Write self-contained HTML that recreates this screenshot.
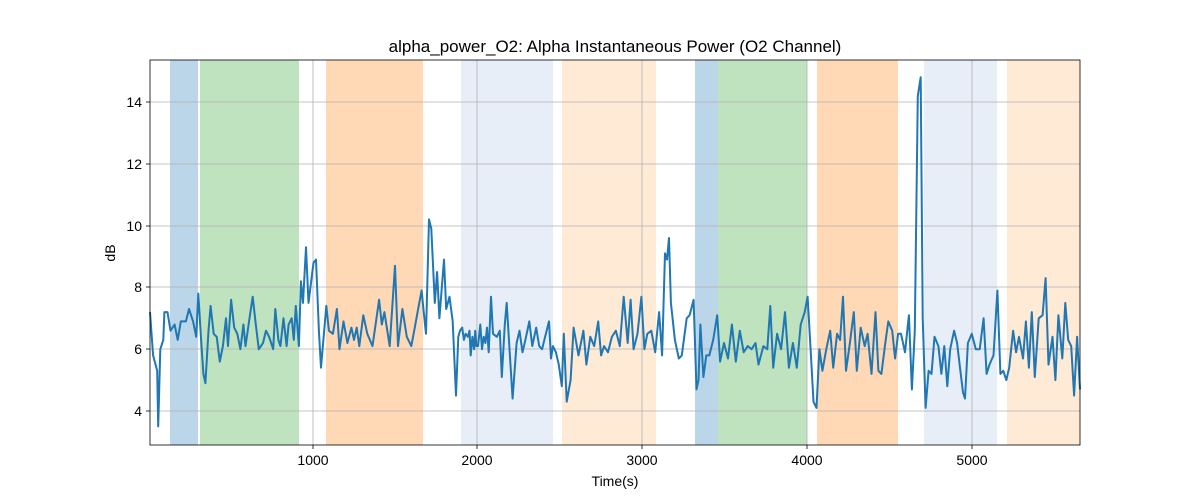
<!DOCTYPE html>
<html><head><meta charset="utf-8"><style>
html,body{margin:0;padding:0;background:#fff;}
svg{display:block;font-family:"Liberation Sans","DejaVu Sans",sans-serif;}
</style></head><body>
<svg id="s" width="1200" height="500" xmlns="http://www.w3.org/2000/svg">
<rect width="1200" height="500" fill="#fff"/>
<g>
<rect x="170" y="60" width="28" height="385" fill="#1f77b4" opacity="0.3"/>
<rect x="200" y="60" width="99" height="385" fill="#2ca02c" opacity="0.3"/>
<rect x="326" y="60" width="97" height="385" fill="#ff7f0e" opacity="0.3"/>
<rect x="461" y="60" width="92" height="385" fill="#aec7e8" opacity="0.3"/>
<rect x="562" y="60" width="94" height="385" fill="#ffbb78" opacity="0.3"/>
<rect x="695" y="60" width="23" height="385" fill="#1f77b4" opacity="0.3"/>
<rect x="718" y="60" width="89" height="385" fill="#2ca02c" opacity="0.3"/>
<rect x="817" y="60" width="81" height="385" fill="#ff7f0e" opacity="0.3"/>
<rect x="924" y="60" width="73" height="385" fill="#aec7e8" opacity="0.3"/>
<rect x="1007" y="60" width="73" height="385" fill="#ffbb78" opacity="0.3"/>
</g>
<g stroke="#b0b0b0" stroke-width="0.8">
<line x1="313" y1="60" x2="313" y2="445"/><line x1="477" y1="60" x2="477" y2="445"/>
<line x1="642" y1="60" x2="642" y2="445"/><line x1="807" y1="60" x2="807" y2="445"/>
<line x1="972" y1="60" x2="972" y2="445"/>
<line x1="150" y1="411" x2="1080" y2="411"/><line x1="150" y1="349" x2="1080" y2="349"/>
<line x1="150" y1="287" x2="1080" y2="287"/><line x1="150" y1="226" x2="1080" y2="226"/>
<line x1="150" y1="164" x2="1080" y2="164"/><line x1="150" y1="102" x2="1080" y2="102"/>
</g>
<polyline id="ln" fill="none" stroke="#1f77b4" stroke-width="2" stroke-linejoin="round"/>
<rect x="150" y="60" width="930" height="385" fill="none" stroke="#000" stroke-width="0.8"/>
<g stroke="#000" stroke-width="0.8">
<line x1="313" y1="445" x2="313" y2="449"/><line x1="477" y1="445" x2="477" y2="449"/>
<line x1="642" y1="445" x2="642" y2="449"/><line x1="807" y1="445" x2="807" y2="449"/>
<line x1="972" y1="445" x2="972" y2="449"/>
<line x1="146" y1="411" x2="150" y2="411"/><line x1="146" y1="349" x2="150" y2="349"/>
<line x1="146" y1="287" x2="150" y2="287"/><line x1="146" y1="226" x2="150" y2="226"/>
<line x1="146" y1="164" x2="150" y2="164"/><line x1="146" y1="102" x2="150" y2="102"/>
</g>
<g font-size="14" fill="#000" text-anchor="middle">
<text x="313" y="465">1000</text><text x="477" y="465">2000</text><text x="642" y="465">3000</text>
<text x="807" y="465">4000</text><text x="972" y="465">5000</text>
<text x="615" y="486">Time(s)</text>
</g>
<g font-size="14" fill="#000" text-anchor="end">
<text x="142" y="416">4</text><text x="142" y="354">6</text><text x="142" y="292">8</text>
<text x="142" y="231">10</text><text x="142" y="169">12</text><text x="142" y="107">14</text>
</g>
<text x="115" y="253" font-size="14" text-anchor="middle" transform="rotate(-90 115 253)">dB</text>
<text x="615" y="52" font-size="17" text-anchor="middle">alpha_power_O2: Alpha Instantaneous Power (O2 Channel)</text>
</svg>
<script>
var d=[150,7.2,153,5.8,157,5.3,158,3.5,160,6,163,6.3,164,7.2,167,7.2,170,6.6,174,6.8,177,6.3,180,6.9,185,6.9,188,7.3,192,6.9,195,6.4,197,7.8,200,6.2,202,5.2,204,4.9,207,6.6,209,7.4,212,6.5,215,6.4,218,5.6,221,6.1,224,7,226,6.1,229,7.6,232,6.7,235,6.5,238,6,241,6.8,243,6.1,246,6.8,250,7.7,253,6.8,256,6,260,6.2,263,6.6,266,6.4,270,6.0,272,7.3,275,6.3,277,6.1,280,7.0,283,6.1,285,6.8,288,7,290,6.3,292,7.4,295,6.1,297,8.2,299,7.5,301,9.3,303,7.5,307,8.8,309,8.9,313,6.6,316,5.4,320,7.4,322,6.6,325,6.5,328,7.3,330,6,333,6.9,336,6.2,339,6.7,341,6.3,343,6.7,345,6.1,348,7.1,351,6.5,355,6.1,360,7.6,362,6.8,364,7.2,368,6.1,372,8.7,374,6.1,377,7.3,380,6.4,383,6.1,385,6.6,388,7.4,390,7.9,391,7.4,393,6.5,395,10.2,397,9.9,400,7.5,402,8.5,404,7.0,408,8.9,410,7.3,413,7.7,416,6.9,419,4.5,423,6.4,426,6.6,430,6.7,433,6.3,436,6.5,440,6.4,443,6.6,445,5.8,448,6.4,451,6.0,453,6.6,455,6.1,458,6.1,462,6.8,465,6.0,468,6.4,471,6.2,474,6.7,477,5.9,481,7.7,483,6.5,487,6.4,490,6.6,492,5.1,495,6.8,497,7.5,500,5.9,503,4.4,507,6.2,510,6.6,513,5.9,516,6.3,520,6.9,523,6.1,527,6.7,530,6.1,533,6.0,536,6.4,540,6.9,542,5.7,544,6.1,547,5.9,550,5.5,553,4.8,555,6.5,558,4.3,562,5.0,565,6.7,570,5.8,575,6.6,578,5.5,582,6.4,586,6.1,590,6.9,593,5.8,596,6.1,600,5.9,604,6.4,608,6.6,612,6.1,616,7.7,620,6.2,623,7.6,626,6.0,630,6.5,634,7.7,637,6.0,640,6.5,644,6.6,648,5.9,652,7.2,655,5.8,658,9.1,660,8.9,662,9.6,664,7.5,668,6.3,672,5.7,675,5.8,680,7.0,683,7.1,687,7.6,690,4.7,692,5.0,694,6.8,697,5.1,700,5.8,703,5.8,707,6.3,711,7.1,714,5.6,718,6.2,722,5.7,726,6.8,730,5.6,734,6.6,738,5.9,742,6.1,746,6.0,750,6.2,753,5.5,758,6.1,762,6.0,765,7.4,768,5.4,772,6.5,776,6.0,780,7.2,784,5.4,788,6.2,792,5.4,796,6.8,800,7.2,803,7.7,806,6.0,809,4.3,812,4.1,815,6.0,818,5.3,822,6.0,826,6.6,829,5.4,833,6.5,836,6.3,839,7.7,842,5.3,846,6.2,850,7.2,853,5.3,857,6.7,861,6.1,864,6.5,868,5.2,872,7.2,875,5.3,878,5.2,882,6.2,885,6.9,889,6.6,892,5.7,895,6.5,898,6.5,902,5.9,906,7.1,909,4.7,912,6.6,915,14.2,918,14.8,920,7.0,923,4.1,926,5.3,929,5.2,932,6.4,936,6.1,939,5.2,942,6.1,945,4.8,948,6.0,952,6.6,955,6.2,958,5.4,961,4.6,963,4.4,966,6.2,970,6.5,974,6.0,978,6.0,982,7.0,985,5.2,988,5.5,992,5.8,996,7.9,999,5.2,1002,5.3,1005,5.0,1008,5.4,1012,6.6,1015,5.9,1018,6.4,1022,5.7,1025,6.9,1028,5.4,1031,7.2,1034,5.1,1038,7.0,1042,7.1,1045,8.3,1048,5.5,1052,6.4,1055,5.0,1058,7.1,1062,5.7,1065,7.5,1068,6.3,1071,6.1,1074,4.5,1077,6.4,1080,4.7];
var m=[[150,150],[299,303],[301,306],[309,316],[316,321],[372,395],[395,429],[408,444],[419,456],[481,491],[1080,1080]];
function f(x){for(var j=0;j<m.length-1;j++){if(x>=m[j][0]&&x<=m[j+1][0]){return m[j][1]+(x-m[j][0])*(m[j+1][1]-m[j][1])/(m[j+1][0]-m[j][0]);}}return x;}
var p=[];for(var i=0;i<d.length;i+=2){p.push(f(d[i]).toFixed(1)+","+(411-(d[i+1]-4)*30.9).toFixed(1));}
document.getElementById("ln").setAttribute("points",p.join(" "));
</script>
</body></html>
